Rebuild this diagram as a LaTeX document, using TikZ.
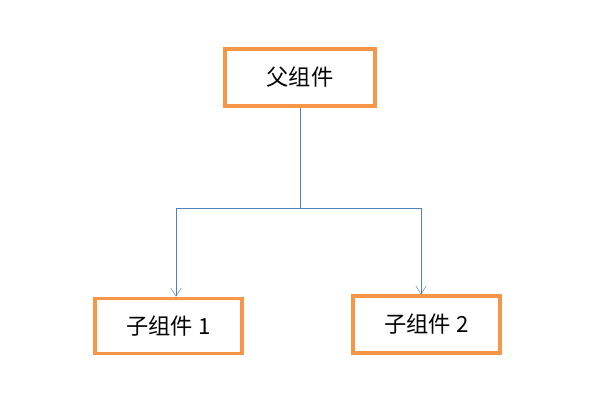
\documentclass[tikz,border=0pt]{standalone}
\usepackage{fontspec}
\newfontfamily\cjk{Noto Sans CJK SC}
\usetikzlibrary{arrows,arrows.meta,positioning}
\definecolor{boxorange}{HTML}{F79646}
\definecolor{lineblue}{HTML}{4F81BD}

\begin{document}
\begin{tikzpicture}[x=0.03cm, y=0.03cm, every node/.style={
    rectangle,
    draw=boxorange,
    line width=3pt,
    fill=white,
    font=\cjk\fontsize{19}{22}\selectfont
}]
    \useasboundingbox (0, 0) rectangle (600, 417);

    \node (parent) [minimum width=4.5cm, minimum height=1.7cm] at (300, 339.5)
    {
        父组件
    };

    \node (child_one) [minimum width=4.4cm, minimum height=1.65cm] at (168.5, 91)
    {
        子组件 1
    };
    \node (child_two) [minimum width=4.4cm, minimum height=1.7cm] at (426.5, 92.5)
    {
        子组件 2
    };

    \coordinate (split) at (300, 209);
    \coordinate (drop_one) at (176, 209);
    \coordinate (drop_two) at (421, 209);

    \draw[lineblue, thin] (parent) to (split);
    \draw[lineblue, thin] (drop_one) to (drop_two);
    \draw[-{Straight Barb[length=7pt, width=9pt]}, lineblue, thin] (drop_one) to (drop_one |- child_one.north);
    \draw[-{Straight Barb[length=7pt, width=9pt]}, lineblue, thin] (drop_two) to (drop_two |- child_two.north);

\end{tikzpicture}
\end{document}
